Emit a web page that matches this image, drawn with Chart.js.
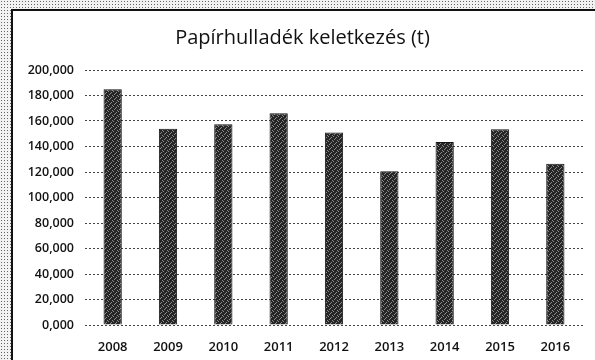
<!DOCTYPE html>
<html lang="hu">
<head>
<meta charset="utf-8">
<title>Papírhulladék keletkezés</title>
<script src="https://cdn.jsdelivr.net/npm/chart.js@4.4.1/dist/chart.umd.min.js"></script>
<style>
    html, body {
        margin: 0;
        padding: 0;
        width: 595px;
        height: 360px;
        overflow: hidden;
    }
    body {
        background: #f2f2f2 radial-gradient(#666 0.7px, transparent 1px) 0 0 / 3px 3px;
        position: relative;
    }
    #keret {
        position: absolute;
        left: 11px;
        top: 9px;
        width: 584px;
        height: 351px;
        border-left: 2px solid #111;
        border-top: 2px solid #111;
        background: #fff;
    }
</style>
</head>
<body>
<div id="keret">
    <canvas id="papirChart" width="582" height="349"></canvas>
</div>

<script>
// Adatok
const evek = ['2008', '2009', '2010', '2011', '2012', '2013', '2014', '2015', '2016'];
const mennyiseg = [185000, 154000, 157500, 166000, 151000, 120500, 143500, 153500, 126500];
const tengelyFeliratok = ['0,000', '20,000', '40,000', '60,000', '80,000', '100,000',
    '120,000', '140,000', '160,000', '180,000', '200,000'];

// Szemcsés sötétszürke kitöltés az oszlopokhoz
function oszlopMinta() {
    const c = document.createElement('canvas');
    c.width = 5;
    c.height = 5;
    const g = c.getContext('2d');
    g.fillStyle = '#262626';
    g.fillRect(0, 0, 5, 5);
    g.fillStyle = '#8c8c8c';
    [[0, 0], [3, 1], [1, 3], [4, 4], [2, 2]].forEach(p => g.fillRect(p[0], p[1], 1, 1));
    return g.createPattern(c, 'repeat');
}

const ctx = document.getElementById('papirChart').getContext('2d');
const papirChart = new Chart(ctx, {
    type: 'bar',
    data: {
        labels: evek,
        datasets: [{
            label: 'Papírhulladék (t)',
            data: mennyiseg,
            backgroundColor: oszlopMinta(),
            borderColor: '#151515',
            borderWidth: 1,
            categoryPercentage: 1,
            barPercentage: 0.33
        }]
    },
    options: {
        responsive: false,
        animation: false,
        layout: {
            padding: { left: 9, right: 12, top: 0, bottom: 0 }
        },
        plugins: {
            legend: { display: false },
            tooltip: { enabled: false },
            title: {
                display: true,
                text: 'Papírhulladék keletkezés (t)',
                color: '#111',
                font: { family: 'Open Sans', size: 20, weight: 'normal' },
                padding: { top: 15, bottom: 20 }
            }
        },
        scales: {
            x: {
                grid: { display: false },
                border: { display: false },
                ticks: {
                    color: '#111',
                    font: { family: 'Open Sans', size: 13, weight: '600' },
                    padding: 6
                },
                afterFit: (scale) => { scale.height = 35; }
            },
            y: {
                min: 0,
                max: 200000,
                // pontozott rácsvonalak
                border: { display: false, dash: [2, 2] },
                grid: {
                    color: '#444',
                    lineWidth: 1,
                    drawTicks: false
                },
                ticks: {
                    stepSize: 20000,
                    color: '#111',
                    font: { family: 'Open Sans', size: 12.5, weight: '600' },
                    padding: 11,
                    callback: (value, index) => tengelyFeliratok[index]
                },
                afterFit: (scale) => { scale.width = 63; }
            }
        }
    }
});
</script>
</body>
</html>
